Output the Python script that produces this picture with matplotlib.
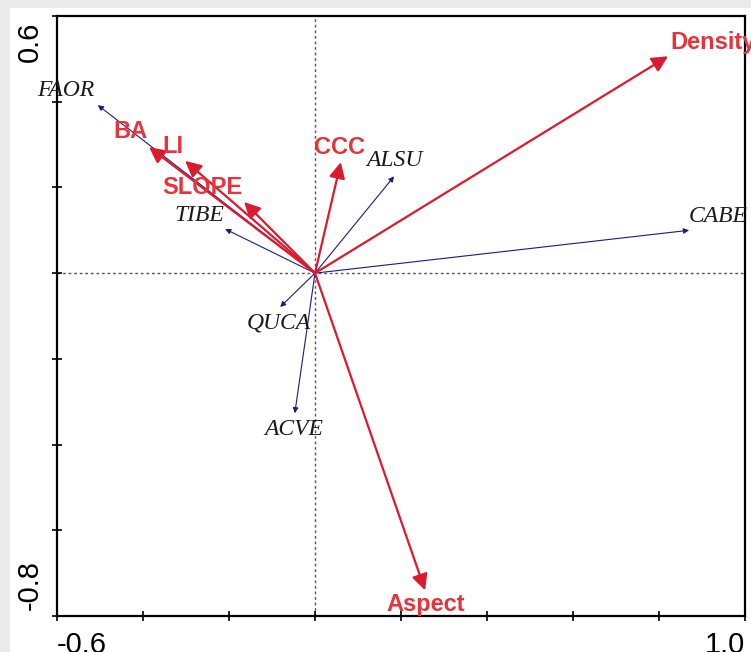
import matplotlib.pyplot as plt
from matplotlib.patches import Rectangle

# environmental variables (red arrows)
env_names = ["Density", "CCC", "BA", "LI", "SLOPE", "Aspect"]
env_x = [0.821, 0.060, -0.386, -0.302, -0.165, 0.256]
env_y = [0.506, 0.259, 0.294, 0.262, 0.166, -0.740]
env_label_x = [0.826, 0.058, -0.430, -0.330, -0.263, 0.258]
env_label_y = [0.539, 0.294, 0.331, 0.296, 0.201, -0.772]
env_label_ha = ["left", "center", "center", "center", "center", "center"]

# species (navy arrows)
sp_names = ["FAOR", "ALSU", "CABE", "TIBE", "QUCA", "ACVE"]
sp_x = [-0.505, 0.184, 0.870, -0.209, -0.081, -0.047]
sp_y = [0.392, 0.226, 0.100, 0.103, -0.079, -0.327]
sp_label_x = [-0.579, 0.186, 0.937, -0.270, -0.084, -0.049]
sp_label_y = [0.427, 0.264, 0.133, 0.135, -0.117, -0.364]

# axis ticks: only the ends are labelled
x_ticks = [-0.6, -0.4, -0.2, 0.0, 0.2, 0.4, 0.6, 0.8, 1.0]
y_ticks = [-0.8, -0.6, -0.4, -0.2, 0.0, 0.2, 0.4, 0.6]
x_ticklabels = ["-0.6"] + [""] * 7 + ["1.0"]
y_end_labels = ["-0.8", "0.6"]
y_end_values = [-0.8, 0.6]

red = "#dc1a2e"
red_text = "#e4353d"
navy = "#1c1c7a"

fig = plt.figure(figsize=(7.51, 6.52), dpi=100)
fig.patch.set_facecolor("#ebebeb")
fig.patches.append(Rectangle((10 / 751, 0), 1, 1 - 8 / 652, transform=fig.transFigure,
                             facecolor="white", edgecolor="none", zorder=-10))

ax = fig.add_axes([57 / 751, 36 / 652, 688 / 751, 600 / 652])
ax.set_xlim(-0.6, 1.0)
ax.set_ylim(-0.8, 0.6)

ax.axhline(0, color="#555555", lw=1, ls=(0, (2, 2)), zorder=1)
ax.axvline(0, color="#555555", lw=1, ls=(0, (2, 2)), zorder=1)

for x, y, lx, ly, name in zip(sp_x, sp_y, sp_label_x, sp_label_y, sp_names):
    ax.annotate("", xy=(x, y), xytext=(0, 0),
                arrowprops=dict(arrowstyle="-|>", color=navy, lw=0.8,
                                mutation_scale=8, shrinkA=0, shrinkB=0), zorder=2)
    ax.text(lx, ly, name, family="Liberation Serif", style="italic", fontsize=17,
            color="#1a1a1a", ha="center", va="center", clip_on=False, zorder=4)

for x, y, lx, ly, ha, name in zip(env_x, env_y, env_label_x, env_label_y, env_label_ha, env_names):
    ax.annotate("", xy=(x, y), xytext=(0, 0),
                arrowprops=dict(arrowstyle="-|>,head_length=0.6,head_width=0.3", color=red, lw=1.6,
                                mutation_scale=16, shrinkA=0, shrinkB=0), zorder=3)
    ax.text(lx, ly, name, family="Liberation Sans", weight="bold", fontsize=17,
            color=red_text, ha=ha, va="center", clip_on=False, zorder=5)

ax.set_xticks(x_ticks)
ax.set_yticks(y_ticks)
ax.set_xticklabels(x_ticklabels, family="Liberation Sans", fontsize=21)
ax.set_yticklabels([])
xl = ax.get_xticklabels()
xl[0].set_ha("left")
xl[-1].set_ha("right")

# y end labels, rotated and pulled in from the corners
for val, lab in zip(y_end_values, y_end_labels):
    top = val == max(y_end_values)
    ax.annotate(lab, xy=(0, val), xycoords=("axes fraction", "data"),
                xytext=(-13, -6 if top else 6), textcoords="offset pixels",
                rotation=90, ha="right", va="top" if top else "bottom",
                family="Liberation Sans", fontsize=21, annotation_clip=False)

ax.tick_params(direction="inout", length=7, width=1.2)
ax.tick_params(axis="x", pad=7)
for s in ax.spines.values():
    s.set_linewidth(1.6)

fig.savefig("out.png", dpi=100, facecolor=fig.get_facecolor())
